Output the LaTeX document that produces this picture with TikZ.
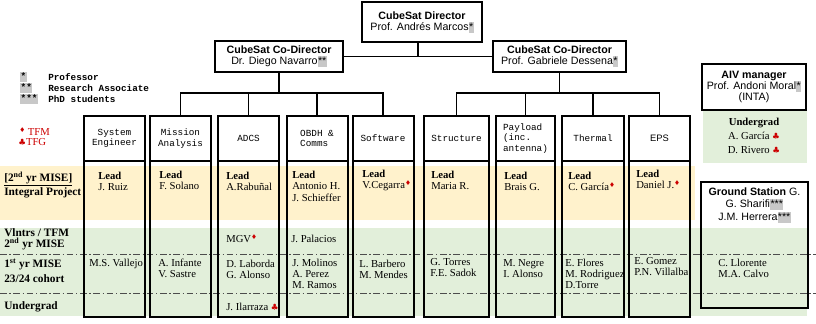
\documentclass[tikz,border=0pt]{standalone}
\usepackage{fontspec}
\setmainfont{Liberation Serif}
\newfontfamily\arialf{Liberation Sans}
\newfontfamily\courf{Liberation Mono}
\newfontfamily\symf{DejaVu Sans}
\usepackage{xcolor}
\usetikzlibrary{positioning}
\definecolor{bandy}{RGB}{255,242,204}
\definecolor{bandg}{RGB}{226,239,218}
\definecolor{tfred}{RGB}{204,0,0}
\definecolor{hilite}{RGB}{200,200,200}
\newcommand{\starbox}[1]{{\fboxsep=0.3pt\colorbox{hilite}{\rule[-1.5pt]{0pt}{7.5pt}#1}}}
\newcommand{\legbox}[1]{{\fboxsep=0.3pt\colorbox{hilite}{\rule[-1.2pt]{0pt}{6pt}#1}}}
\newcommand{\tfmsym}{\textcolor{tfred}{\raisebox{2.2pt}{\symf\fontsize{5}{5}\selectfont ♦}}}
\newcommand{\tfgsym}{\textcolor{tfred}{\symf\fontsize{6.5}{6.5}\selectfont ♣}}

\begin{document}
\begin{tikzpicture}[
    x=0.75pt, y=-0.75pt,
    boss/.style={draw,line width=0.9pt,fill=white,align=center,inner sep=0pt,font=\arialf\fontsize{8}{8.25}\selectfont},
    colhead/.style={draw,line width=1.5pt,fill=white,minimum width=45.75pt,minimum height=33.75pt,inner sep=0pt,outer sep=0pt,align=center,font=\courf\fontsize{7}{8}\selectfont},
    colbody/.style={draw,line width=1.5pt,minimum width=45.75pt,minimum height=117pt,inner sep=0pt,outer sep=0pt},
    names/.style={anchor=north west,inner sep=0pt,align=left,font=\fontsize{8}{8.25}\selectfont},
    rowlabel/.style={anchor=north west,inner sep=0pt,align=left,font=\bfseries\fontsize{8.5}{8.25}\selectfont},
    legend/.style={anchor=west,inner sep=0pt,font=\courf\bfseries\fontsize{7}{8}\selectfont},
    tree/.style={line width=1.3pt},
    rowline/.style={draw=black!70,line width=0.6pt,dash pattern=on 5pt off 2pt on 1pt off 2pt}
]
\useasboundingbox (0,0) rectangle (816,324);
\fill[bandy] (0,166) rectangle (695,220);
\fill[bandg] (0,228) rectangle (807,316);
\fill[bandg] (703,110) rectangle (807,163);
\draw[rowline] (0,254) -- (816,254);
\draw[rowline] (0,293) -- (816,293);

\node[boss,minimum width=90pt,minimum height=30pt] (dir) at (422,22) {\textbf{CubeSat Director}\\Prof. Andrés Marcos\starbox{*}};
\node[boss,minimum width=96pt,minimum height=23.25pt] (codl) at (279,56.5) {\textbf{CubeSat Co-Director}\\Dr. Diego Navarro\starbox{**}};
\node[boss,minimum width=99.75pt,minimum height=23.25pt] (codr) at (559.5,56.5) {\textbf{CubeSat Co-Director}\\Prof. Gabriele Dessena\starbox{*}};
\coordinate (split) at (418,56.5);
\coordinate (busl) at (279,93);
\coordinate (busr) at (559.5,93);

\node[colhead] (sys) at (114.5,138.5) {System\\Engineer};
\node[colhead] (mis) at (180.5,138.5) {Mission\\Analysis};
\node[colhead] (adcs) at (248.5,138.5) {ADCS};
\node[colhead,align=left] (obdh) at (317,138.5) {OBDH \&\\Comms};
\node[colhead] (soft) at (383,138.5) {Software};
\node[colhead,minimum width=48.75pt] (struc) at (456.5,138.5) {Structure};
\node[colhead,minimum width=44.25pt,align=left] (pay) at (525.5,138.5) {Payload\\(inc.\\antenna)};
\node[colhead,minimum width=46.5pt] (therm) at (593,138.5) {Thermal};
\node[colhead,font=\arialf\fontsize{7}{8}\selectfont] (eps) at (659.5,138.5) {EPS};
\node[colbody,below=0pt of sys] (sysb) {};
\node[colbody,below=0pt of mis] (misb) {};
\node[colbody,below=0pt of adcs] (adcsb) {};
\node[colbody,below=0pt of obdh] (obdhb) {};
\node[colbody,below=0pt of soft] (softb) {};
\node[colbody,minimum width=48.75pt,below=0pt of struc] (strucb) {};
\node[colbody,minimum width=44.25pt,below=0pt of pay] (payb) {};
\node[colbody,minimum width=46.5pt,below=0pt of therm] (thermb) {};
\node[colbody,below=0pt of eps] (epsb) {};

\draw[tree] (codl) -- (codr);
\draw[tree] (dir.south -| split) -- (split);
\draw[tree] (codl) -- (busl);
\draw[tree] (codr) -- (busr);
\draw[tree] (busl) -| (mis.north);
\draw[tree] (busl) -| (adcs.north);
\draw[tree] (busl) -| (obdh.north);
\draw[tree] (busl) -| (soft.north);
\draw[tree] (busr) -| (struc.north);
\draw[tree] (busr) -| (pay.north);
\draw[tree] (busr) -| (therm.north);
\draw[tree] (busr) -| (eps.north);

\node[boss,line width=1.2pt,minimum width=78pt,minimum height=34.5pt] (aiv) at (754,87) {\textbf{AIV manager}\\Prof. Andoni Moral\starbox{*}\\(INTA)};
\node[names,anchor=north,align=center,font=\fontsize{8}{10.5}\selectfont,below=5pt of aiv.south] (aivug) {\textbf{Undergrad}\\A. García \tfgsym\\D. Rivero \tfgsym};
\node[draw,line width=1.2pt,minimum width=80.25pt,minimum height=94.5pt] (gs) at (754.5,245) {};
\node[inner sep=0pt,align=center,font=\arialf\fontsize{8}{9.4}\selectfont,below=4.5pt of gs.north] (gst) {\textbf{Ground Station} G.\\G. Sharifi\starbox{***}\\J.M. Herrera\starbox{***}};
\node[names] (gsn) at (718,258.5) {C. Llorente\\M.A. Calvo};

\node[legend] (s1) at (20,77) {\legbox{*}};
\node[legend] (s2) at (20,88) {\legbox{**}};
\node[legend] (s3) at (20,99) {\legbox{***}};
\node[legend] (l1) at (48,77) {Professor};
\node[legend] (l2) at (48,88) {Research Associate};
\node[legend] (l3) at (48,99) {PhD students};
\node[anchor=west,inner sep=0pt,text=tfred,font=\fontsize{8}{8}\selectfont] (tfm) at (19,132) {\tfmsym\ TFM};
\node[anchor=west,inner sep=0pt,text=tfred,font=\fontsize{8}{8}\selectfont] (tfg) at (18,142) {\tfgsym TFG};

\node[rowlabel] (intp) at (4,171.5) {\underline{[2\textsuperscript{nd} yr MISE]}\\Integral Project};
\node[rowlabel] (vol) at (4,228.5) {Vlntrs / TFM\\2\textsuperscript{nd} yr MISE};
\node[rowlabel] (first) at (4,258.5) {1\textsuperscript{st} yr MISE\\[3pt]23/24 cohort};
\node[rowlabel] (ug) at (4,301.5) {Undergrad};

\node[names] (sysl) at (98,171.5) {\textbf{Lead}\\J. Ruiz};
\node[names] (sysn) at (89,259) {M.S. Vallejo};
\node[names] (misl) at (159,170.5) {\textbf{Lead}\\F. Solano};
\node[names] (misn) at (158,258.5) {A. Infante\\V. Sastre};
\node[names] (adcsl) at (226,171.5) {\textbf{Lead}\\A.Rabuñal};
\node[names] (adcsv) at (226,234.5) {MGV\tfmsym};
\node[names] (adcsn) at (226,259.5) {D. Laborda\\G. Alonso};
\node[names] (adcsu) at (226,302.5) {J. Ilarraza \tfgsym};
\node[names,font=\fontsize{8}{8.6}\selectfont] (obdhl) at (292,170.5) {\textbf{Lead}\\Antonio H.\\J. Schieffer};
\node[names] (obdhv) at (291,234.5) {J. Palacios};
\node[names] (obdhn) at (292,259) {J. Molinos\\A. Perez\\M. Ramos};
\node[names] (softl) at (362,169.5) {\textbf{Lead}\\V.Cegarra\tfmsym};
\node[names] (softn) at (359,259.5) {L. Barbero\\M. Mendes};
\node[names] (strucl) at (431,171) {\textbf{Lead}\\Maria R.};
\node[names] (strucn) at (430,258.5) {G. Torres\\F.E. Sadok};
\node[names] (payl) at (504,172) {\textbf{Lead}\\Brais G.};
\node[names] (payn) at (503,259.5) {M. Negre\\I. Alonso};
\node[names] (therml) at (568,171.5) {\textbf{Lead}\\C. García\tfmsym};
\node[names] (thermn) at (565,258.5) {E. Flores\\M. Rodriguez\\D.Torre};
\node[names] (epsl) at (636,170) {\textbf{Lead}\\Daniel J.\tfmsym};
\node[names] (epsn) at (634,257.5) {E. Gomez\\P.N. Villalba};
\end{tikzpicture}
\end{document}
